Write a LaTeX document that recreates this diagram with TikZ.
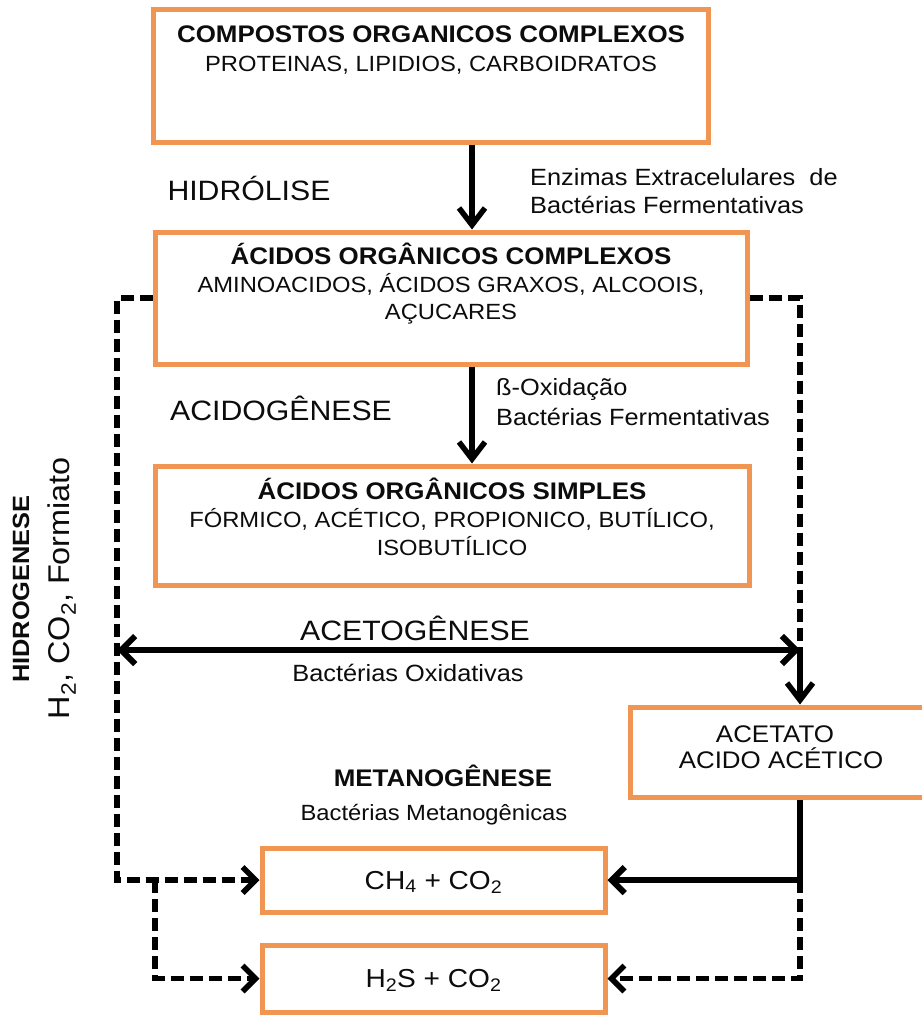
\documentclass[tikz,border=0pt]{standalone}
\usepackage{fontspec}
\setmainfont{Liberation Sans}[FakeStretch=1.08]
\usetikzlibrary{arrows.meta}
\definecolor{boxor}{RGB}{240,150,82}
\definecolor{txt}{RGB}{12,12,12}
\begin{document}
\begin{tikzpicture}[x=1pt,y=-1pt,
  box/.style={draw=boxor, line width=5pt, rectangle, inner sep=0pt, fill=white},
  lbl/.style={text=txt, inner sep=0pt, anchor=base},
  ttl/.style={lbl, font=\fontsize{24}{28}\selectfont\bfseries},
  btx/.style={lbl, font=\fontsize{22}{27}\selectfont},
  stage/.style={lbl, font=\fontsize{28}{32}\selectfont},
  note/.style={lbl, anchor=base west, font=\fontsize{23.5}{28}\selectfont},
  tipb/.style={-{Straight Barb[length=13pt,width=26pt]}},
  tipv/.style={-{Straight Barb[length=17pt,width=26pt]}},
  arr/.style={line width=5.5pt, line join=miter, tipv},
  dsh/.style={line width=5.5pt, line join=miter, dash pattern=on 13pt off 6pt},
  ]
\useasboundingbox[fill=white] (0,0) rectangle (921,1017);

% boxes
\node[box, minimum width=555pt, minimum height=133pt] (b1) at (430.5,75.5) {};
\node[box, minimum width=592pt, minimum height=132pt] (b2) at (451,298) {};
\node[box, minimum width=594pt, minimum height=119pt] (b3) at (452,525.5) {};
\node[box, minimum width=300pt, minimum height=90pt] (acet) at (780,752) {};
\node[box, minimum width=343pt, minimum height=64pt] (ch4) at (433.5,880) {};
\node[box, minimum width=343pt, minimum height=67pt] (h2s) at (433.5,978.5) {};

% box texts
\node[ttl] (t1a) at (431,42) {COMPOSTOS ORGANICOS COMPLEXOS};
\node[btx] (t1b) at (431,71) {PROTEINAS, LIPIDIOS, CARBOIDRATOS};
\node[ttl] (t2a) at (451,264) {ÁCIDOS ORGÂNICOS COMPLEXOS};
\node[btx] (t2b) at (451,292) {AMINOACIDOS,\ ÁCIDOS GRAXOS, ALCOOIS,};
\node[btx] (t2c) at (451,319) {AÇUCARES};
\node[ttl] (t3a) at (452,499) {ÁCIDOS ORGÂNICOS SIMPLES};
\node[btx] (t3b) at (452,527) {FÓRMICO, ACÉTICO, PROPIONICO, BUTÍLICO,};
\node[btx] (t3c) at (452,555) {ISOBUTÍLICO};
\node[lbl, font=\fontsize{24}{28}\selectfont] (t4a) at (775,742) {ACETATO};
\node[lbl, font=\fontsize{24}{28}\selectfont] (t4b) at (781,768) {ACIDO ACÉTICO};
\node[lbl, font=\fontsize{26}{30}\selectfont] (t5) at (433.5,889) {CH\textsubscript{4} + CO\textsubscript{2}};
\node[lbl, font=\fontsize{26}{30}\selectfont] (t6) at (433.5,987) {H\textsubscript{2}S + CO\textsubscript{2}};

% stage labels
\node[stage] (hid) at (249,200) {HIDRÓLISE};
\node[note] (enz1) at (530,185) {Enzimas Extracelulares\ \ de};
\node[note] (enz2) at (530,213) {Bactérias Fermentativas};
\node[stage] (acid) at (281,420) {ACIDOGÊNESE};
\node[note] (box1) at (496,395) {ß-Oxidação};
\node[note] (box2) at (496,425) {Bactérias Fermentativas};
\node[stage] (acet1) at (415,640) {ACETOGÊNESE};
\node[lbl, font=\fontsize{23.5}{28}\selectfont] (oxi) at (408,681) {Bactérias Oxidativas};
\node[lbl, font=\fontsize{24}{28}\selectfont\bfseries] (met1) at (443,786) {METANOGÊNESE};
\node[lbl, font=\fontsize{22}{26}\selectfont] (met2) at (434,820) {Bactérias Metanogênicas};
\node[text=txt, inner sep=0pt, rotate=90, font=\fontsize{23.5}{28}\selectfont\bfseries] (hg) at (21,589) {HIDROGENESE};
\node[text=txt, inner sep=0pt, rotate=90, font=\fontsize{30}{34}\selectfont] (hgp) at (62,588) {H\textsubscript{2}, CO\textsubscript{2}, Formiato};

% coordinates
\coordinate (xa) at (472,0);
\coordinate (La) at (117,298);
\coordinate (Lb) at (117,880);
\coordinate (Lc) at (155,880);
\coordinate (Ld) at (155,978.5);
\coordinate (Lm) at (117,650);
\coordinate (Ra) at (800,298);
\coordinate (Rm) at (800,650);
\coordinate (Rb) at (800,880);
\coordinate (Rc) at (800,978.5);

% main arrows
\draw[arr] (b1.south -| xa) -- (b2.north -| xa);
\draw[arr] (b2.south -| xa) -- (b3.north -| xa);

% dashed hydrogen path
\draw[dsh, tipb] (b2.west) -- (La) -- (Lb) -- (ch4.west);
\draw[dsh, tipb] (Lc) -- (Ld) -- (h2s.west);
\draw[dsh] (b2.east) -- (Ra) -- (Rm);

% acetogenesis
\draw[line width=6pt, {Straight Barb[length=14pt,width=28pt]}-{Straight Barb[length=14pt,width=28pt]}] (Lm) -- (Rm);
\draw[arr] (Rm) -- (acet.north -| Rm);
\draw[line width=6pt] (acet.south -| Rm) -- (Rb);
\draw[line width=6pt, tipb] (Rb) -- (ch4.east);
\draw[dsh, tipb] (Rb) -- (Rc) -- (h2s.east);
\end{tikzpicture}
\end{document}
